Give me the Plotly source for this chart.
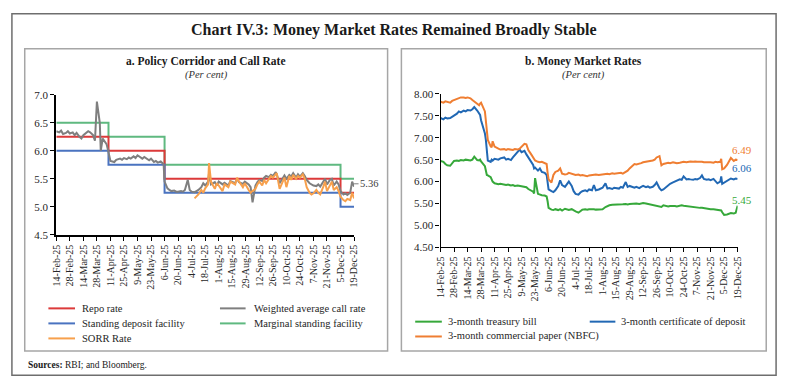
import plotly.graph_objects as go
import pandas as pd

# ---------------- DATA ----------------
tick_labels = ["14-Feb-25", "28-Feb-25", "14-Mar-25", "28-Mar-25", "11-Apr-25", "25-Apr-25",
               "9-May-25", "23-May-25", "6-Jun-25", "20-Jun-25", "4-Jul-25", "18-Jul-25",
               "1-Aug-25", "15-Aug-25", "29-Aug-25", "12-Sep-25", "26-Sep-25", "10-Oct-25",
               "24-Oct-25", "7-Nov-25", "21-Nov-25", "5-Dec-25", "19-Dec-25"]

# Panel a: policy corridor (step changes)
policy_dates = ["2025-02-14", "2025-04-09", "2025-06-06", "2025-12-05", "2025-12-19"]
repo_rate = [6.25, 6.00, 5.50, 5.25, 5.25]
sdf_rate = [6.00, 5.75, 5.25, 5.00, 5.00]
msf_rate = [6.50, 6.25, 5.75, 5.50, 5.50]

wacr_dates = ["2025-02-14", "2025-02-17", "2025-02-19", "2025-02-21", "2025-02-24", "2025-02-26",
              "2025-02-28", "2025-03-03", "2025-03-05", "2025-03-07", "2025-03-10", "2025-03-12",
              "2025-03-14", "2025-03-17", "2025-03-19", "2025-03-21", "2025-03-24", "2025-03-26",
              "2025-03-27", "2025-03-28", "2025-03-31", "2025-04-01", "2025-04-03", "2025-04-07",
              "2025-04-08", "2025-04-09", "2025-04-11", "2025-04-15", "2025-04-17", "2025-04-21",
              "2025-04-23", "2025-04-25", "2025-04-28", "2025-04-30", "2025-05-02", "2025-05-05",
              "2025-05-07", "2025-05-09", "2025-05-12", "2025-05-14", "2025-05-16", "2025-05-19",
              "2025-05-21", "2025-05-23", "2025-05-26", "2025-05-28", "2025-05-30", "2025-06-02",
              "2025-06-04", "2025-06-05", "2025-06-06", "2025-06-09", "2025-06-11", "2025-06-13",
              "2025-06-16", "2025-06-18", "2025-06-20", "2025-06-23", "2025-06-25", "2025-06-27",
              "2025-06-30", "2025-07-02", "2025-07-04", "2025-07-07", "2025-07-09", "2025-07-11",
              "2025-07-14", "2025-07-16", "2025-07-18", "2025-07-21", "2025-07-22", "2025-07-24",
              "2025-07-28", "2025-07-30", "2025-08-01", "2025-08-05", "2025-08-07", "2025-08-11",
              "2025-08-13", "2025-08-18", "2025-08-20", "2025-08-22", "2025-08-26", "2025-08-28",
              "2025-09-01", "2025-09-03", "2025-09-05", "2025-09-08", "2025-09-10", "2025-09-12",
              "2025-09-15", "2025-09-17", "2025-09-19", "2025-09-22", "2025-09-24", "2025-09-26",
              "2025-09-29", "2025-09-30", "2025-10-03", "2025-10-06", "2025-10-08", "2025-10-10",
              "2025-10-13", "2025-10-15", "2025-10-17", "2025-10-20", "2025-10-22", "2025-10-24",
              "2025-10-27", "2025-10-29", "2025-10-31", "2025-11-03", "2025-11-05", "2025-11-07",
              "2025-11-10", "2025-11-12", "2025-11-14", "2025-11-17", "2025-11-19", "2025-11-21",
              "2025-11-24", "2025-11-26", "2025-11-28", "2025-12-01", "2025-12-03", "2025-12-05",
              "2025-12-08", "2025-12-10", "2025-12-12", "2025-12-15", "2025-12-17", "2025-12-19"]
wacr_vals = [6.35, 6.33, 6.36, 6.30, 6.32, 6.35,
             6.31, 6.33, 6.28, 6.32, 6.25, 6.22,
             6.28, 6.32, 6.35, 6.33, 6.28, 6.18,
             6.45, 6.88, 6.50, 6.00, 6.22, 6.12,
             6.05, 5.95, 5.82, 5.80, 5.84, 5.86,
             5.84, 5.87, 5.85, 5.88, 5.86, 5.90,
             5.87, 5.92, 5.88, 5.86, 5.89, 5.85,
             5.83, 5.86, 5.80, 5.82, 5.79, 5.81,
             5.77, 5.76, 5.45, 5.33, 5.30, 5.28,
             5.29, 5.27, 5.27, 5.28, 5.27, 5.30,
             5.48, 5.30, 5.27, 5.26, 5.28, 5.30,
             5.35, 5.42, 5.38, 5.45, 5.60, 5.40,
             5.44, 5.38, 5.45, 5.40, 5.43, 5.38,
             5.46, 5.42, 5.50, 5.44, 5.41, 5.45,
             5.40, 5.35, 5.08, 5.38, 5.44, 5.48,
             5.46, 5.52, 5.55, 5.53, 5.57, 5.55,
             5.62, 5.58, 5.42, 5.52, 5.56, 5.50,
             5.57, 5.54, 5.60, 5.52, 5.58, 5.54,
             5.60, 5.55, 5.48, 5.42, 5.40, 5.38,
             5.37, 5.40, 5.36, 5.45, 5.50, 5.40,
             5.48, 5.50, 5.38, 5.45, 5.40, 5.28,
             5.22, 5.24, 5.21, 5.25, 5.45, 5.36]

sorr_dates = wacr_dates[wacr_dates.index("2025-07-07"):]
sorr_vals = [5.15, 5.18, 5.22,
             5.30, 5.25, 5.33, 5.40, 5.78, 5.45,
             5.32, 5.42, 5.38, 5.28, 5.40, 5.35,
             5.45, 5.40, 5.52, 5.45, 5.35, 5.42,
             5.30, 5.25, 5.28, 5.32, 5.40, 5.45,
             5.38, 5.48, 5.42, 5.50, 5.55, 5.52,
             5.58, 5.60, 5.32, 5.45, 5.52, 5.35,
             5.55, 5.48, 5.57, 5.50, 5.55, 5.52,
             5.58, 5.50, 5.35, 5.25, 5.22, 5.24,
             5.30, 5.25, 5.22, 5.35, 5.45, 5.28,
             5.40, 5.45, 5.30, 5.35, 5.28, 5.18,
             5.12, 5.10, 5.14, 5.12, 5.25, 5.15]

# Panel b: money market rates
mm_dates = ["2025-02-14", "2025-02-17", "2025-02-19", "2025-02-21", "2025-02-24", "2025-02-26",
            "2025-02-28", "2025-03-03", "2025-03-05", "2025-03-07", "2025-03-10", "2025-03-12",
            "2025-03-14", "2025-03-17", "2025-03-19", "2025-03-21", "2025-03-24", "2025-03-26",
            "2025-03-27", "2025-03-28", "2025-04-01", "2025-04-02", "2025-04-03", "2025-04-04",
            "2025-04-07", "2025-04-08", "2025-04-09", "2025-04-11", "2025-04-15", "2025-04-17",
            "2025-04-21", "2025-04-23", "2025-04-25", "2025-04-28", "2025-04-30", "2025-05-02",
            "2025-05-05", "2025-05-07", "2025-05-09", "2025-05-12", "2025-05-14", "2025-05-16",
            "2025-05-19", "2025-05-21", "2025-05-22", "2025-05-23", "2025-05-26", "2025-05-28",
            "2025-05-30", "2025-06-02", "2025-06-04", "2025-06-05", "2025-06-06", "2025-06-09",
            "2025-06-11", "2025-06-13", "2025-06-16", "2025-06-18", "2025-06-20", "2025-06-23",
            "2025-06-25", "2025-06-27", "2025-06-30", "2025-07-02", "2025-07-04", "2025-07-07",
            "2025-07-09", "2025-07-11", "2025-07-14", "2025-07-16", "2025-07-18", "2025-07-21",
            "2025-07-23", "2025-07-25", "2025-07-28", "2025-07-30", "2025-08-01", "2025-08-04",
            "2025-08-06", "2025-08-08", "2025-08-11", "2025-08-13", "2025-08-18", "2025-08-20",
            "2025-08-22", "2025-08-25", "2025-08-27", "2025-08-29", "2025-09-01", "2025-09-03",
            "2025-09-05", "2025-09-08", "2025-09-10", "2025-09-12", "2025-09-15", "2025-09-17",
            "2025-09-19", "2025-09-22", "2025-09-24", "2025-09-26", "2025-09-29", "2025-10-01",
            "2025-10-03", "2025-10-06", "2025-10-08", "2025-10-10", "2025-10-13", "2025-10-15",
            "2025-10-17", "2025-10-20", "2025-10-22", "2025-10-24", "2025-10-27", "2025-10-29",
            "2025-10-31", "2025-11-03", "2025-11-05", "2025-11-07", "2025-11-10", "2025-11-12",
            "2025-11-14", "2025-11-17", "2025-11-19", "2025-11-21", "2025-11-24", "2025-11-26",
            "2025-11-28", "2025-12-01", "2025-12-02", "2025-12-03", "2025-12-05", "2025-12-08",
            "2025-12-10", "2025-12-12", "2025-12-15", "2025-12-17", "2025-12-19"]
cp_vals = [7.82, 7.80, 7.83, 7.82, 7.80, 7.84,
           7.86, 7.88, 7.91, 7.92, 7.92, 7.91,
           7.92, 7.90, 7.86, 7.82, 7.78, 7.74,
           7.78, 7.80, 7.60, 7.40, 7.17, 6.95,
           6.80, 6.78, 6.92, 6.80, 6.75, 6.73,
           6.74, 6.72, 6.74, 6.73, 6.72, 6.74,
           6.73, 6.75, 6.80, 6.86, 6.85, 6.72,
           6.62, 6.55, 6.50, 6.48, 6.45, 6.44,
           6.45, 6.43, 6.40, 6.20, 6.05, 5.98,
           6.15, 6.22, 6.25, 6.30, 6.18, 6.16,
           6.17, 6.20, 6.18, 6.16, 6.15, 6.16,
           6.14, 6.15, 6.13, 6.12, 6.14, 6.15,
           6.14, 6.16, 6.15, 6.16, 6.16, 6.17,
           6.18, 6.17, 6.19, 6.18, 6.19, 6.20,
           6.18, 6.22, 6.25, 6.30, 6.36, 6.40,
           6.39, 6.40, 6.42, 6.44, 6.45, 6.46,
           6.47, 6.48, 6.50, 6.55, 6.58, 6.37,
           6.40, 6.42, 6.43, 6.42, 6.44, 6.43,
           6.42, 6.43, 6.44, 6.45, 6.44, 6.45,
           6.46, 6.45, 6.46, 6.45, 6.46, 6.45,
           6.44, 6.45, 6.44, 6.44, 6.43, 6.45,
           6.44, 6.45, 6.52, 6.28, 6.30, 6.38,
           6.45, 6.54, 6.47, 6.50, 6.49]
cd_vals = [7.45, 7.42, 7.46, 7.44, 7.45, 7.48,
           7.50, 7.55, 7.60, 7.58, 7.62, 7.60,
           7.63, 7.62, 7.65, 7.70, 7.62, 7.55,
           7.52, 7.40, 7.10, 6.95, 6.70, 6.48,
           6.45, 6.50, 6.48, 6.52, 6.50, 6.53,
           6.55, 6.50, 6.52, 6.49, 6.55, 6.60,
           6.68, 6.73, 6.67, 6.70, 6.62, 6.55,
           6.45, 6.38, 6.30, 6.32, 6.25, 6.30,
           6.22, 6.20, 6.15, 5.95, 5.82, 5.78,
           5.76, 5.80, 5.90, 6.03, 5.92, 5.88,
           5.95, 6.00, 5.90, 5.78, 5.72, 5.70,
           5.75, 5.78, 5.80, 5.78, 5.82, 5.80,
           5.92, 5.80, 5.82, 5.84, 5.86, 5.96,
           5.84, 5.85, 5.83, 5.86, 5.84, 5.88,
           5.86, 5.99, 5.88, 5.90, 5.87, 5.86,
           5.88, 5.85, 5.88, 5.90, 5.87, 5.89,
           5.86, 5.88, 5.92, 5.98, 5.85, 5.80,
           5.82, 5.88, 5.92, 5.95, 5.98, 6.00,
           6.03, 6.05, 6.04, 6.12, 6.05, 6.06,
           6.05, 6.04, 6.06, 6.05, 6.08, 6.14,
           6.06, 6.04, 6.05, 6.03, 6.06, 6.00,
           5.96, 6.00, 6.12, 5.95, 5.98, 6.02,
           6.06, 6.07, 6.05, 6.07, 6.06]
tb_vals = [6.47, 6.45, 6.40, 6.37, 6.36, 6.42,
           6.47, 6.48, 6.47, 6.49, 6.48, 6.50,
           6.49, 6.48, 6.50, 6.57, 6.49, 6.48,
           6.50, 6.46, 6.35, 6.25, 6.15, 6.14,
           6.10, 6.05, 6.00, 5.96, 5.94, 5.95,
           5.93, 5.92, 5.93, 5.91, 5.92, 5.90,
           5.91, 5.90, 5.89, 5.88, 5.87, 5.83,
           5.80, 5.77, 5.73, 6.08, 5.72, 5.70,
           5.69, 5.68, 5.66, 5.55, 5.40, 5.36,
           5.35, 5.37, 5.35, 5.37, 5.34, 5.38,
           5.36, 5.35, 5.37, 5.34, 5.32, 5.29,
           5.33, 5.36, 5.37, 5.36, 5.37, 5.38,
           5.37, 5.36, 5.37, 5.38, 5.37, 5.42,
           5.45, 5.46, 5.47, 5.47, 5.48, 5.47,
           5.48, 5.49, 5.48, 5.49, 5.50, 5.49,
           5.50, 5.49, 5.50, 5.51, 5.50, 5.49,
           5.48, 5.47, 5.46, 5.45, 5.43, 5.42,
           5.46, 5.44, 5.43, 5.44, 5.45, 5.44,
           5.43, 5.45, 5.46, 5.45, 5.44, 5.43,
           5.42, 5.42, 5.41, 5.41, 5.40, 5.40,
           5.39, 5.38, 5.38, 5.37, 5.37, 5.36,
           5.36, 5.35, 5.34, 5.30, 5.24, 5.25,
           5.27, 5.28, 5.27, 5.29, 5.45]

# ---------------- STYLE ----------------
W, H = 787, 389
FONT = "Liberation Serif"
TXT = "#262626"
RED, BLUE, GREY, GREEN, ORANGE = "#dc3a3a", "#4a73c0", "#7f7f7f", "#5fb980", "#f7a04c"
TB_C, CD_C, CP_C = "#36a83a", "#2168b4", "#ef7e32"


def px(x):
    return x / W


def py(y):
    return 1 - y / H


tick_vals = [pd.to_datetime(t, format="%d-%b-%y").strftime("%Y-%m-%d") for t in tick_labels]
x_range = [tick_vals[0], tick_vals[-1]]

fig = go.Figure()

# Panel a traces
fig.add_trace(go.Scatter(x=policy_dates, y=msf_rate, name="Marginal standing facility", mode="lines",
                         line=dict(color=GREEN, width=2, shape="hv"), xaxis="x", yaxis="y"))
fig.add_trace(go.Scatter(x=policy_dates, y=repo_rate, name="Repo rate", mode="lines",
                         line=dict(color=RED, width=2, shape="hv"), xaxis="x", yaxis="y"))
fig.add_trace(go.Scatter(x=policy_dates, y=sdf_rate, name="Standing deposit facility", mode="lines",
                         line=dict(color=BLUE, width=2, shape="hv"), xaxis="x", yaxis="y"))
fig.add_trace(go.Scatter(x=wacr_dates, y=wacr_vals, name="Weighted average call rate", mode="lines",
                         line=dict(color=GREY, width=2), xaxis="x", yaxis="y"))
fig.add_trace(go.Scatter(x=sorr_dates, y=sorr_vals, name="SORR Rate", mode="lines",
                         line=dict(color=ORANGE, width=2), xaxis="x", yaxis="y"))

# Panel b traces
fig.add_trace(go.Scatter(x=mm_dates, y=tb_vals, name="3-month treasury bill", mode="lines",
                         line=dict(color=TB_C, width=2), xaxis="x2", yaxis="y2"))
fig.add_trace(go.Scatter(x=mm_dates, y=cd_vals, name="3-month certificate of deposit", mode="lines",
                         line=dict(color=CD_C, width=2), xaxis="x2", yaxis="y2"))
fig.add_trace(go.Scatter(x=mm_dates, y=cp_vals, name="3-month commercial paper (NBFC)", mode="lines",
                         line=dict(color=CP_C, width=2), xaxis="x2", yaxis="y2"))

xcommon = dict(type="date", range=x_range, tickmode="array", tickvals=tick_vals, ticktext=tick_labels,
               tickangle=-90, ticks="outside", ticklen=4, tickcolor="#000", showline=True,
               linecolor="#000", showgrid=False, zeroline=False,
               tickfont=dict(family=FONT, size=10, color=TXT))
ycommon = dict(ticks="outside", ticklen=4, tickcolor="#000", showline=True, linecolor="#000",
               showgrid=False, zeroline=False, dtick=0.5,
               tickfont=dict(family=FONT, size=11, color=TXT))

fig.update_layout(
    width=W, height=H, margin=dict(l=0, r=0, t=0, b=0),
    paper_bgcolor="white", plot_bgcolor="white", showlegend=False,
    font=dict(family=FONT, color=TXT),
    xaxis=dict(xcommon, domain=[px(51), px(353)], anchor="y", linewidth=2),
    yaxis=dict(ycommon, domain=[py(236), py(91.7)], anchor="x", range=[4.5, 7.0], tickformat=".1f",
               linewidth=2),
    xaxis2=dict(xcommon, domain=[px(440.7), px(742)], anchor="y2", linewidth=1.2),
    yaxis2=dict(ycommon, domain=[py(249), py(90.7)], anchor="x2", range=[4.5, 8.0], tickformat=".2f",
                linewidth=1.2),
)

shapes = []
# outer frame and panel boxes
shapes.append(dict(type="rect", xref="paper", yref="paper", x0=px(6), x1=px(781), y0=py(381), y1=py(8),
                   line=dict(color="#6e6e6e", width=1.5)))
shapes.append(dict(type="rect", xref="paper", yref="paper", x0=px(19), x1=px(387), y0=py(356), y1=py(44),
                   line=dict(color="#a6a6a6", width=1.5)))
shapes.append(dict(type="rect", xref="paper", yref="paper", x0=px(401), x1=px(771), y0=py(356), y1=py(44),
                   line=dict(color="#a6a6a6", width=1.5)))

annotations = []
annotations.append(dict(text="<b>Chart IV.3: Money Market Rates Remained Broadly Stable</b>",
                        xref="paper", yref="paper", x=px(394), y=py(25), showarrow=False,
                        xanchor="center", yanchor="middle", font=dict(family=FONT, size=16, color="#1a1a1a")))
annotations.append(dict(text="<b>a. Policy Corridor and Call Rate</b>", xref="paper", yref="paper",
                        x=px(203), y=py(57), showarrow=False, xanchor="center", yanchor="middle",
                        font=dict(family=FONT, size=11.5, color="#1a1a1a")))
annotations.append(dict(text="<i>(Per cent)</i>", xref="paper", yref="paper",
                        x=px(203), y=py(71), showarrow=False, xanchor="center", yanchor="middle",
                        font=dict(family=FONT, size=10.5, color="#333")))
annotations.append(dict(text="<b>b. Money Market Rates</b>", xref="paper", yref="paper",
                        x=px(586), y=py(57), showarrow=False, xanchor="center", yanchor="middle",
                        font=dict(family=FONT, size=11.5, color="#1a1a1a")))
annotations.append(dict(text="<i>(Per cent)</i>", xref="paper", yref="paper",
                        x=px(586), y=py(71), showarrow=False, xanchor="center", yanchor="middle",
                        font=dict(family=FONT, size=10.5, color="#333")))
annotations.append(dict(text="<b>Sources:</b> RBI; and Bloomberg.", xref="paper", yref="paper",
                        x=px(20), y=py(370), showarrow=False, xanchor="left", yanchor="middle",
                        font=dict(family=FONT, size=9.5, color="#1a1a1a")))

# end labels
annotations.append(dict(text=f"{wacr_vals[-1]:.2f}", x=wacr_dates[-1], y=5.41, xref="x", yref="y",
                        showarrow=True, arrowhead=0, arrowwidth=1, arrowcolor=GREY, ax=15, ay=0,
                        font=dict(family=FONT, size=10.5, color="#404040")))
for vals, col, dy in [(cp_vals, CP_C, 0.24), (cd_vals, CD_C, 0.25), (tb_vals, TB_C, 0.12)]:
    annotations.append(dict(text=f"{vals[-1]:.2f}", x=mm_dates[-1], y=vals[-1] + dy, xref="x2", yref="y2",
                            showarrow=False, xanchor="center", yanchor="middle", xshift=4,
                            font=dict(family=FONT, size=11, color=col)))

# manual legends
legend_items = [
    ("Repo rate", RED, 43, 70, 75, 312),
    ("Standing deposit facility", BLUE, 43, 70, 75, 327.5),
    ("SORR Rate", ORANGE, 43, 70, 75, 343),
    ("Weighted average call rate", GREY, 217, 243, 249, 312),
    ("Marginal standing facility", GREEN, 217, 243, 249, 327.5),
    ("3-month treasury bill", TB_C, 415, 442, 446, 325.7),
    ("3-month commercial paper (NBFC)", CP_C, 415, 442, 446, 341),
    ("3-month certificate of deposit", CD_C, 592, 618, 622, 325.7),
]
for name, col, lx0, lx1, tx, yy in legend_items:
    shapes.append(dict(type="line", xref="paper", yref="paper", x0=px(lx0), x1=px(lx1), y0=py(yy), y1=py(yy),
                       line=dict(color=col, width=2)))
    annotations.append(dict(text=name, xref="paper", yref="paper", x=px(tx), y=py(yy), showarrow=False,
                            xanchor="left", yanchor="middle", font=dict(family=FONT, size=10.5, color=TXT)))

fig.update_layout(shapes=shapes, annotations=annotations)
fig.write_html("out.html", config={"displayModeBar": False},
               post_script="document.body.style.margin='0';document.body.style.overflow='hidden';")
